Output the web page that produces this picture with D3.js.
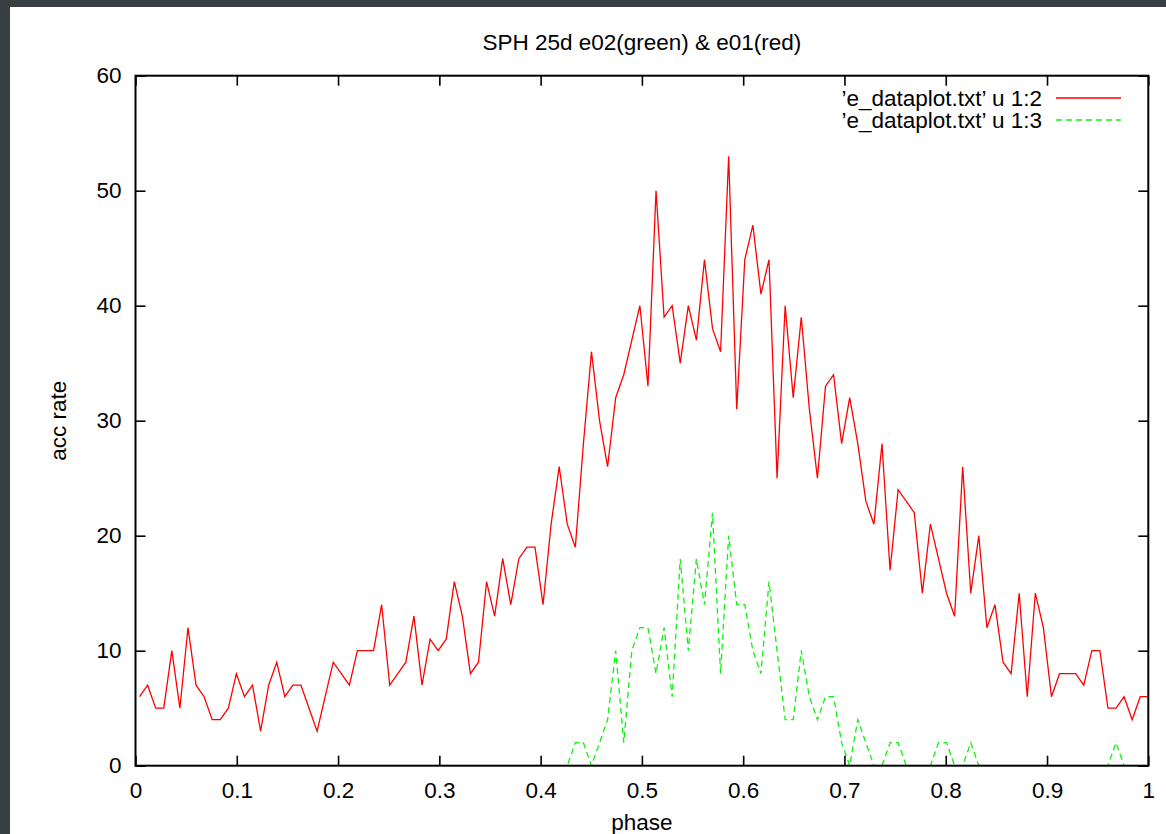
<!DOCTYPE html>
<html>
<head>
<meta charset="utf-8">
<script src="https://cdn.jsdelivr.net/npm/d3@7"></script>
<style>
  html, body { margin: 0; padding: 0; background: #384044; }
  svg { display: block; }
  text { font-family: "Liberation Sans", Arial, Helvetica, sans-serif; fill: #000; }
</style>
</head>
<body>
<svg id="chart" width="1166" height="834"></svg>
<script>
// Accretion-rate histogram over orbital phase (gnuplot-style plot).
const title = "SPH 25d e02(green) & e01(red)";
const xLabel = "phase";
const yLabel = "acc rate";
const seriesNames = ["’e_dataplot.txt’ u 1:2", "’e_dataplot.txt’ u 1:3"];

// Phase bins: first and last bin position, one value per bin below.
const phaseFirst = 0.004;
const phaseLast = 1.0;

// column 2 (e01, red)
const accE01 = [
  6, 7, 5, 5, 10, 5, 12, 7, 6, 4,
  4, 5, 8, 6, 7, 3, 7, 9, 6, 7,
  7, 5, 3, 6, 9, 8, 7, 10, 10, 10,
  14, 7, 8, 9, 13, 7, 11, 10, 11, 16,
  13, 8, 9, 16, 13, 18, 14, 18, 19, 19,
  14, 21, 26, 21, 19, 28, 36, 30, 26, 32,
  34, 37, 40, 33, 50, 39, 40, 35, 40, 37,
  44, 38, 36, 53, 31, 44, 47, 41, 44, 25,
  40, 32, 39, 31, 25, 33, 34, 28, 32, 28,
  23, 21, 28, 17, 24, 23, 22, 15, 21, 18,
  15, 13, 26, 15, 20, 12, 14, 9, 8, 15,
  6, 15, 12, 6, 8, 8, 8, 7, 10, 10,
  5, 5, 6, 4, 6, 6
];

// column 3 (e02, green)
const accE02 = [
  0, 0, 0, 0, 0, 0, 0, 0, 0, 0,
  0, 0, 0, 0, 0, 0, 0, 0, 0, 0,
  0, 0, 0, 0, 0, 0, 0, 0, 0, 0,
  0, 0, 0, 0, 0, 0, 0, 0, 0, 0,
  0, 0, 0, 0, 0, 0, 0, 0, 0, 0,
  0, 0, 0, 0, 2, 2, 0, 2, 4, 10,
  2, 10, 12, 12, 8, 12, 6, 18, 10, 18,
  14, 22, 8, 20, 14, 14, 10, 8, 16, 10,
  4, 4, 10, 6, 4, 6, 6, 2, 0, 4,
  2, 0, 0, 2, 2, 0, 0, 0, 0, 2,
  2, 0, 0, 2, 0, 0, 0, 0, 0, 0,
  0, 0, 0, 0, 0, 0, 0, 0, 0, 0,
  0, 2, 0, 0, 0, 0
];

const xTicks = [0, 0.1, 0.2, 0.3, 0.4, 0.5, 0.6, 0.7, 0.8, 0.9, 1];
const xTickLabels = ["0", "0.1", "0.2", "0.3", "0.4", "0.5", "0.6", "0.7", "0.8", "0.9", "1"];
const yTicks = [0, 10, 20, 30, 40, 50, 60];
const yTickLabels = ["0", "10", "20", "30", "40", "50", "60"];

// ---- layout ----
const W = 1166, H = 834;
const plot = { left: 135.5, right: 1148.3, top: 75.7, bottom: 765.7 };
const fontSize = 22.5;
const tickLen = 10;

const svg = d3.select("#chart");

// window chrome strip and white canvas
svg.append("rect").attr("x", 0).attr("y", 0).attr("width", W).attr("height", H).attr("fill", "#384044");
svg.append("rect").attr("x", 10).attr("y", 7).attr("width", W - 10).attr("height", H - 7).attr("fill", "#ffffff");

const x = d3.scaleLinear().domain([0, 1]).range([plot.left, plot.right]);
const y = d3.scaleLinear().domain([0, 60]).range([plot.bottom, plot.top]);

const n = accE01.length;
const phase = d3.range(n).map(i => phaseFirst + i * (phaseLast - phaseFirst) / (n - 1));

// clip the curves to the plotting box
svg.append("defs").append("clipPath").attr("id", "plotclip")
  .append("rect")
  .attr("x", plot.left).attr("y", plot.top)
  .attr("width", plot.right - plot.left).attr("height", plot.bottom - plot.top);

const line = d3.line().x(d => x(d[0])).y(d => y(d[1]));

const curves = svg.append("g").attr("clip-path", "url(#plotclip)");
curves.append("path")
  .datum(phase.map((p, i) => [p, accE02[i]]))
  .attr("d", line)
  .attr("fill", "none")
  .attr("stroke", "#11f011")
  .attr("stroke-width", 1.3)
  .attr("stroke-dasharray", "6,4");
curves.append("path")
  .datum(phase.map((p, i) => [p, accE01[i]]))
  .attr("d", line)
  .attr("fill", "none")
  .attr("stroke", "#ff0000")
  .attr("stroke-width", 1.3)
  .attr("stroke-linejoin", "miter");

// ---- axes: inward ticks on all four sides, labels bottom and left ----
function styleAxis(g) {
  g.select(".domain").remove();
  g.selectAll(".tick line").attr("stroke", "#000").attr("stroke-width", 1.6);
  g.selectAll(".tick text")
    .style("font-size", fontSize + "px")
    .style("font-family", "'Liberation Sans', Arial, Helvetica, sans-serif")
    .attr("fill", "#000");
}

svg.append("g")
  .attr("transform", `translate(0,${plot.bottom})`)
  .call(d3.axisBottom(x).tickValues(xTicks).tickSizeInner(-tickLen).tickSizeOuter(0)
    .tickPadding(16).tickFormat((d, i) => xTickLabels[i]))
  .call(styleAxis);

svg.append("g")
  .attr("transform", `translate(0,${plot.top})`)
  .call(d3.axisTop(x).tickValues(xTicks).tickSizeInner(-tickLen).tickSizeOuter(0).tickFormat(""))
  .call(styleAxis);

svg.append("g")
  .attr("transform", `translate(${plot.left},0)`)
  .call(d3.axisLeft(y).tickValues(yTicks).tickSizeInner(-tickLen).tickSizeOuter(0)
    .tickPadding(14).tickFormat((d, i) => yTickLabels[i]))
  .call(styleAxis);

svg.append("g")
  .attr("transform", `translate(${plot.right},0)`)
  .call(d3.axisRight(y).tickValues(yTicks).tickSizeInner(-tickLen).tickSizeOuter(0).tickFormat(""))
  .call(styleAxis);

// plot border
svg.append("rect")
  .attr("x", plot.left).attr("y", plot.top)
  .attr("width", plot.right - plot.left).attr("height", plot.bottom - plot.top)
  .attr("fill", "none").attr("stroke", "#000").attr("stroke-width", 2);

// ---- titles ----
svg.append("text")
  .attr("x", (plot.left + plot.right) / 2).attr("y", 50)
  .attr("text-anchor", "middle")
  .style("font-size", fontSize + "px")
  .text(title);

svg.append("text")
  .attr("x", (plot.left + plot.right) / 2).attr("y", 830)
  .attr("text-anchor", "middle")
  .style("font-size", fontSize + "px")
  .text(xLabel);

svg.append("text")
  .attr("transform", `translate(66,${(plot.top + plot.bottom) / 2}) rotate(-90)`)
  .attr("text-anchor", "middle")
  .style("font-size", fontSize + "px")
  .text(yLabel);

// ---- key ----
const key = svg.append("g");
const keyStyles = [
  { stroke: "#ff0000", dash: null },
  { stroke: "#11f011", dash: "6,4" }
];
seriesNames.forEach((name, i) => {
  const ky = 98 + i * 22;
  key.append("text")
    .attr("x", 1042).attr("y", ky).attr("dy", "0.35em")
    .attr("text-anchor", "end")
    .style("font-size", fontSize + "px")
    .text(name);
  key.append("line")
    .attr("x1", 1056).attr("x2", 1121).attr("y1", ky).attr("y2", ky)
    .attr("stroke", keyStyles[i].stroke)
    .attr("stroke-width", 1.3)
    .attr("stroke-dasharray", keyStyles[i].dash);
});
</script>
</body>
</html>
